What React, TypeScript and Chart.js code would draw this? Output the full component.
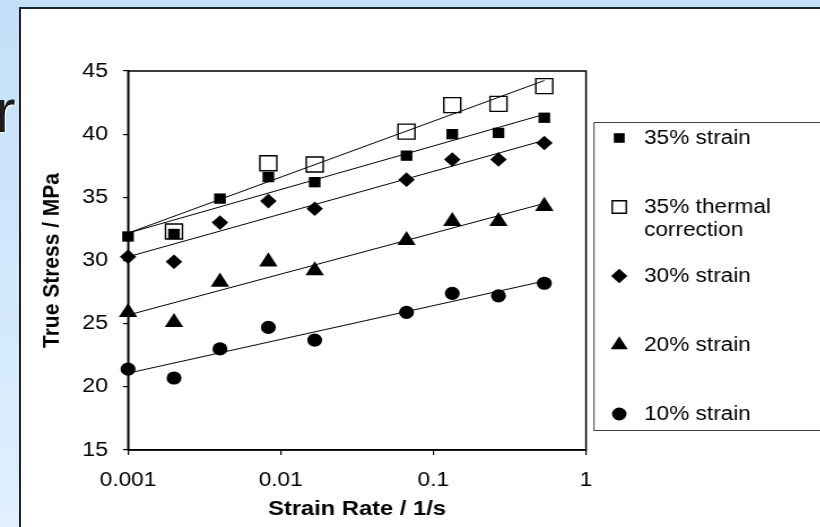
import React, { useEffect, useRef } from "react";
import { Chart, registerables } from "chart.js";

Chart.register(...registerables);

// ---- data ----
const strainRates = [0.001, 0.002, 0.004, 0.0083, 0.0167, 0.0667, 0.133, 0.267, 0.533];
const stress35 = [31.9, 32.1, 34.9, 36.6, 36.2, 38.3, 40.0, 40.1, 41.3];
// no thermal-correction markers are shown at 0.001 and 0.004 1/s
const stress35Thermal = [null, 32.3, null, 37.7, 37.6, 40.2, 42.3, 42.4, 43.8];
const stress30 = [30.3, 29.9, 33.0, 34.7, 34.1, 36.4, 38.0, 38.0, 39.3];
const stress20 = [25.9, 25.1, 28.3, 29.9, 29.2, 31.6, 33.1, 33.1, 34.3];
const stress10 = [21.4, 20.7, 23.0, 24.7, 23.7, 25.9, 27.4, 27.2, 28.2];
const seriesLabels = [
  ["35% strain"],
  ["35% thermal", "correction"],
  ["30% strain"],
  ["20% strain"],
  ["10% strain"],
];
const xTickValues = [0.001, 0.01, 0.1, 1];
const xTickLabels = ["0.001", "0.01", "0.1", "1"];
const yMin = 15;
const yMax = 45;
const yStep = 5;
const xTitle = "Strain Rate / 1/s";
const yTitle = "True Stress / MPa";

// ---- layout (canvas is drawn narrow and stretched horizontally) ----
const STRETCH = 1.13;
const CW = 726;
const CH = 527;
const FONT = "'Liberation Sans', Arial, Helvetica, sans-serif";

type V = number | null;

// least-squares logarithmic trend (y = a + b log10 x), drawn over the full strain-rate range
function logFit(xs: number[], ys: V[]) {
  const px: number[] = [];
  const py: number[] = [];
  xs.forEach((x, i) => {
    const y = ys[i];
    if (y !== null && y !== undefined) {
      px.push(Math.log10(x));
      py.push(y);
    }
  });
  const n = px.length;
  const mx = px.reduce((a, b) => a + b, 0) / n;
  const my = py.reduce((a, b) => a + b, 0) / n;
  let sxy = 0;
  let sxx = 0;
  for (let i = 0; i < n; i++) {
    sxy += (px[i] - mx) * (py[i] - my);
    sxx += (px[i] - mx) * (px[i] - mx);
  }
  const b = sxy / sxx;
  const a = my - b * mx;
  return [xs[0], xs[xs.length - 1]].map((x) => ({ x, y: a + b * Math.log10(x) }));
}

const toPoints = (ys: V[]) =>
  strainRates
    .map((x, i) => ({ x, y: ys[i] }))
    .filter((p) => p.y !== null && p.y !== undefined);

const seriesDefs = [
  { values: stress35 as V[], pointStyle: "rect", radius: 7.3, legendRadius: 6.8, fill: "#000", borderWidth: 0 },
  { values: stress35Thermal as V[], pointStyle: "rect", radius: 10.6, legendRadius: 8.8, fill: "rgba(255,255,255,0)", borderWidth: 1.4 },
  { values: stress30 as V[], pointStyle: "rectRot", radius: 7.3, legendRadius: 7.2, fill: "#000", borderWidth: 0 },
  { values: stress20 as V[], pointStyle: "triangle", radius: 9.4, legendRadius: 8.7, fill: "#000", borderWidth: 0 },
  { values: stress10 as V[], pointStyle: "circle", radius: 6.6, legendRadius: 6.4, fill: "#000", borderWidth: 0 },
];

function drawMarker(ctx: CanvasRenderingContext2D, style: string, x: number, y: number, r: number, fill: string, bw: number) {
  ctx.beginPath();
  if (style === "rect") {
    const s = Math.SQRT1_2 * r;
    ctx.rect(x - s, y - s, 2 * s, 2 * s);
  } else if (style === "rectRot") {
    ctx.moveTo(x, y - r);
    ctx.lineTo(x + r, y);
    ctx.lineTo(x, y + r);
    ctx.lineTo(x - r, y);
    ctx.closePath();
  } else if (style === "triangle") {
    const a = (2 * Math.PI) / 3;
    ctx.moveTo(x, y - r);
    ctx.lineTo(x + Math.sin(a) * r, y - Math.cos(a) * r);
    ctx.lineTo(x + Math.sin(2 * a) * r, y - Math.cos(2 * a) * r);
    ctx.closePath();
  } else {
    ctx.arc(x, y, r, 0, Math.PI * 2);
  }
  ctx.fillStyle = fill;
  ctx.fill();
  if (bw > 0) {
    ctx.lineWidth = bw;
    ctx.strokeStyle = "#000";
    ctx.stroke();
  }
}

const framePlugin = {
  id: "plotFrame",
  beforeDatasetsDraw(chart: any) {
    const { ctx, chartArea } = chart;
    ctx.save();
    ctx.strokeStyle = "#000";
    ctx.lineWidth = 1.5;
    ctx.strokeRect(chartArea.left, chartArea.top, chartArea.right - chartArea.left, chartArea.bottom - chartArea.top);
    ctx.restore();
  },
};

const legendPlugin = {
  id: "boxLegend",
  afterDraw(chart: any) {
    const ctx: CanvasRenderingContext2D = chart.ctx;
    const left = 525.7;
    const top = 122.5;
    const bottom = 430.5;
    ctx.save();
    ctx.fillStyle = "#fff";
    ctx.fillRect(left, top, CW - left + 20, bottom - top);
    ctx.strokeStyle = "#444";
    ctx.lineWidth = 1;
    ctx.strokeRect(left, top, CW - left + 20, bottom - top);
    const markerX = 548;
    const textX = 570;
    const firstY = 138;
    const rowGap = 69;
    ctx.font = `20px ${FONT}`;
    ctx.textBaseline = "middle";
    ctx.textAlign = "left";
    seriesDefs.forEach((s, i) => {
      const y = firstY + i * rowGap;
      drawMarker(ctx, s.pointStyle, markerX, y, s.legendRadius, s.fill, s.borderWidth);
      ctx.fillStyle = "#000";
      seriesLabels[i].forEach((line, j) => {
        ctx.fillText(line, textX, y + j * 23);
      });
    });
    ctx.restore();
  },
};

export default function App() {
  const canvasRef = useRef<HTMLCanvasElement | null>(null);

  useEffect(() => {
    const canvas = canvasRef.current;
    if (!canvas) return;

    const scatterSets = seriesDefs.map((s, i) => ({
      type: "scatter" as const,
      label: seriesLabels[i].join(" "),
      data: toPoints(s.values),
      pointStyle: s.pointStyle,
      pointRadius: s.radius,
      pointHoverRadius: s.radius,
      pointBackgroundColor: s.fill,
      pointBorderColor: "#000",
      pointBorderWidth: s.borderWidth,
      showLine: false,
      clip: false,
      order: 1,
    }));

    const trendSets = seriesDefs.map((s, i) => ({
      type: "line" as const,
      label: seriesLabels[i].join(" ") + " trend",
      data: logFit(strainRates, s.values),
      borderColor: "#000",
      borderWidth: 1,
      pointRadius: 0,
      showLine: true,
      fill: false,
      tension: 0,
      clip: false,
      order: 0,
    }));

    const chart = new Chart(canvas, {
      type: "scatter",
      data: { datasets: [...scatterSets, ...trendSets] as any },
      options: {
        animation: false,
        responsive: false,
        devicePixelRatio: 1,
        layout: { padding: { top: 71, right: CW - 518.6, left: 0, bottom: 0 } },
        plugins: {
          legend: { display: false },
          tooltip: { enabled: false },
        },
        scales: {
          x: {
            type: "logarithmic",
            min: 0.001,
            max: 1,
            afterBuildTicks: (scale: any) => {
              scale.ticks = xTickValues.map((v) => ({ value: v }));
            },
            afterFit: (scale: any) => {
              scale.height = CH - 450;
            },
            ticks: {
              autoSkip: false,
              maxRotation: 0,
              padding: 13.5,
              color: "#000",
              font: { family: FONT, size: 20 },
              callback: (value: any) => {
                const idx = xTickValues.findIndex((v) => Math.abs(v - Number(value)) < 1e-9);
                return idx >= 0 ? xTickLabels[idx] : "";
              },
            },
            grid: { drawOnChartArea: false, drawTicks: true, tickLength: 5, color: "#000", lineWidth: 1.2 },
            border: { display: true, color: "#000", width: 1.5 },
            title: {
              display: true,
              text: xTitle,
              color: "#000",
              font: { family: FONT, size: 21, weight: "bold" },
              padding: { top: 0, bottom: 5.2 },
            },
          },
          y: {
            type: "linear",
            min: yMin,
            max: yMax,
            afterFit: (scale: any) => {
              scale.width = 113.3;
            },
            ticks: {
              stepSize: yStep,
              padding: 13.2,
              color: "#000",
              font: { family: FONT, size: 20.5 },
            },
            grid: { drawOnChartArea: false, drawTicks: true, tickLength: 4.5, color: "#000", lineWidth: 1.2 },
            border: { display: true, color: "#000", width: 1.5 },
            title: {
              display: true,
              text: yTitle,
              color: "#000",
              font: { family: FONT, size: 21, weight: "bold" },
              padding: { top: 33.9, bottom: 0 },
            },
          },
        },
      },
      plugins: [framePlugin, legendPlugin],
    });

    return () => {
      chart.destroy();
    };
  }, []);

  return (
    <div
      style={{
        position: "fixed",
        left: 0,
        top: 0,
        width: 820,
        height: 527,
        overflow: "hidden",
        background: "linear-gradient(180deg, #c3dff9 0%, #d2e8fd 55%, #e0f0ff 100%)",
      }}
    >
      <div
        style={{
          position: "absolute",
          left: -5,
          top: 80,
          fontFamily: FONT,
          fontSize: 62,
          lineHeight: 1,
          color: "#1e1e1e",
          textShadow: "1px 1px 1px #ffffff",
        }}
      >
        r
      </div>
      <div
        style={{
          position: "absolute",
          left: 19,
          top: 7,
          width: 840,
          height: 560,
          background: "#ffffff",
          border: "2px solid #222",
          boxSizing: "border-box",
        }}
      />
      <canvas
        ref={canvasRef}
        width={CW}
        height={CH}
        style={{
          position: "absolute",
          left: 0,
          top: 0,
          width: CW,
          height: CH,
          transform: `scaleX(${STRETCH})`,
          transformOrigin: "0 0",
        }}
      />
    </div>
  );
}
